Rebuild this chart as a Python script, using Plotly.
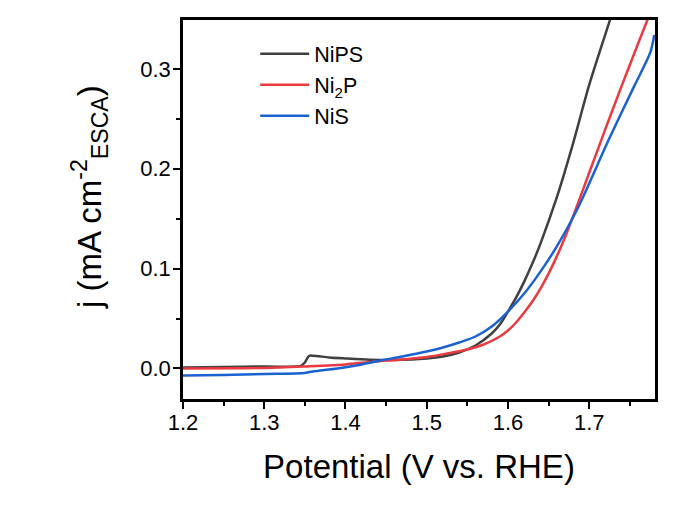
import plotly.graph_objects as go

# Linear sweep voltammetry, current normalised by ECSA
nips_v = [1.20, 1.25, 1.30, 1.345, 1.350, 1.355, 1.36, 1.38, 1.40, 1.43, 1.46, 1.50, 1.52,
          1.54, 1.56, 1.58, 1.59, 1.60, 1.61, 1.62, 1.63, 1.64, 1.66, 1.68, 1.70, 1.726, 1.735]
nips_j = [0.001, 0.0015, 0.002, 0.0025, 0.006, 0.0125, 0.0128, 0.011, 0.010, 0.0088, 0.0085,
          0.010, 0.012, 0.016, 0.023, 0.035, 0.044, 0.057, 0.071, 0.087, 0.105, 0.125, 0.171,
          0.225, 0.284, 0.350, 0.372]

ni2p_v = [1.20, 1.30, 1.35, 1.40, 1.434, 1.47, 1.50, 1.525, 1.55, 1.57, 1.59, 1.60, 1.61,
          1.62, 1.63, 1.64, 1.65, 1.66, 1.67, 1.68, 1.70, 1.72, 1.74, 1.76, 1.775]
ni2p_j = [0.000, 0.0005, 0.002, 0.004, 0.0068, 0.009, 0.0115, 0.015, 0.019, 0.024, 0.032,
          0.038, 0.046, 0.056, 0.067, 0.080, 0.095, 0.112, 0.131, 0.152, 0.196, 0.240, 0.283,
          0.325, 0.356]

nis_v = [1.20, 1.25, 1.30, 1.35, 1.36, 1.39, 1.42, 1.443, 1.47, 1.50, 1.52, 1.54, 1.56,
         1.58, 1.60, 1.62, 1.64, 1.66, 1.685, 1.724, 1.755, 1.775, 1.779, 1.780]
nis_j = [-0.007, -0.0065, -0.0055, -0.0045, -0.003, 0.000, 0.004, 0.008, 0.012, 0.017, 0.021,
         0.026, 0.032, 0.042, 0.057, 0.075, 0.097, 0.122, 0.159, 0.229, 0.282, 0.316, 0.329,
         0.334]

series = [
    ("NiPS", nips_v, nips_j, "#404040"),
    ("Ni<sub>2</sub>P", ni2p_v, ni2p_j, "#ea3a3f"),
    ("NiS", nis_v, nis_j, "#1a62d2"),
]

x_range = [1.2, 1.781]
y_range = [-0.0306, 0.349]

fig = go.Figure()
for name, v, j, color in series:
    fig.add_trace(go.Scatter(x=v, y=j, mode="lines", name=name,
                             line=dict(color=color, width=2.5, shape="spline", smoothing=0.8)))

axis_common = dict(
    showline=True, linecolor="black", linewidth=2.5, mirror=True,
    ticks="outside", ticklen=7, tickwidth=2, tickcolor="black",
    showgrid=False, zeroline=False, tickformat=".1f", dtick=0.1,
    tickfont=dict(family="Arial, Liberation Sans, sans-serif", size=22, color="black"),
    minor=dict(ticks="outside", ticklen=4, tickwidth=2, tickcolor="black", dtick=0.05, showgrid=False),
)

fig.update_layout(
    width=686, height=521,
    margin=dict(l=183, r=31, t=20, b=122),
    paper_bgcolor="white", plot_bgcolor="white",
    font=dict(family="Arial, Liberation Sans, sans-serif", color="black"),
    xaxis=dict(range=x_range, tick0=1.2, ticklabelstandoff=-5,
               title=dict(text="Potential (V vs. RHE)", font=dict(size=33), standoff=21),
               **axis_common),
    yaxis=dict(range=y_range, tick0=0, ticklabelstandoff=-2, **axis_common),
    legend=dict(x=0.153, y=0.965, xanchor="left", yanchor="top", bgcolor="rgba(0,0,0,0)",
                font=dict(size=21.5), itemwidth=49),
    showlegend=True,
    annotations=[dict(
        text="j (mA cm<sup>-2</sup><sub>ESCA</sub>)", textangle=-90,
        xref="paper", yref="paper", x=-0.197, y=0.533,
        xanchor="center", yanchor="middle", showarrow=False,
        font=dict(size=33, color="black"),
    )],
)

fig.write_html("out.html")
